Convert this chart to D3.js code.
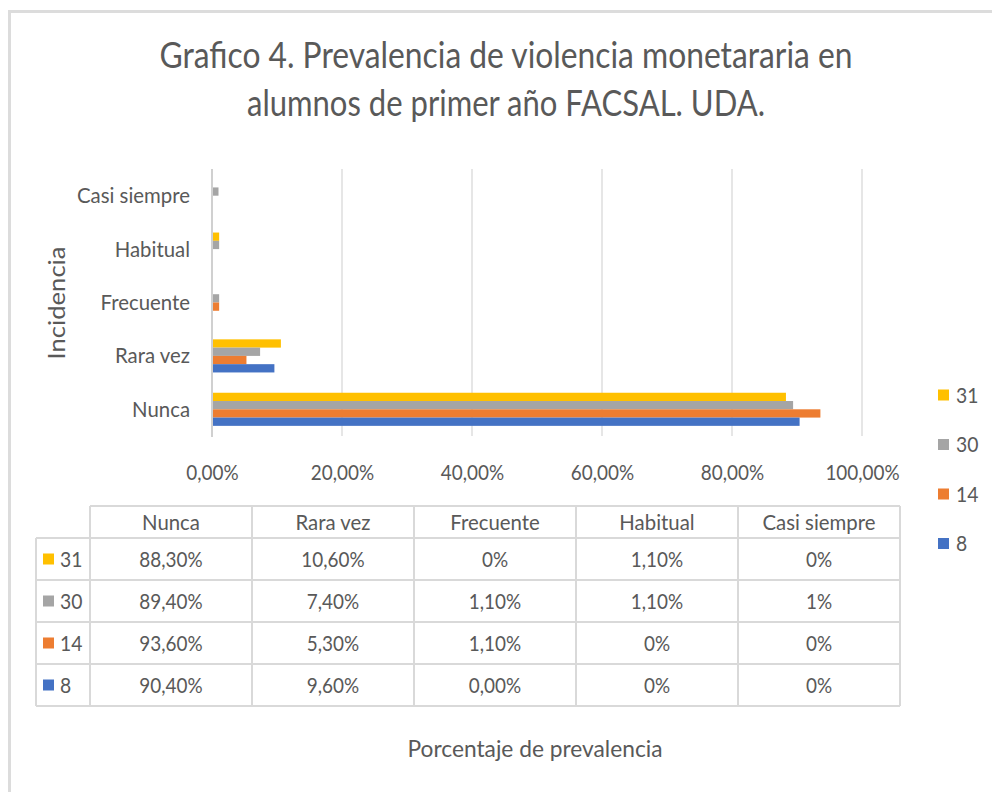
<!DOCTYPE html>
<html>
<head>
<meta charset="utf-8">
<script src="https://cdn.jsdelivr.net/npm/d3@7"></script>
<style>
  html, body { margin: 0; padding: 0; background: #fff; }
  svg { display: block; }
  text { font-family: Lato, "Open Sans", sans-serif; fill: #595959; }
</style>
</head>
<body>
<svg id="chart" width="992" height="792"></svg>
<script>
// ---- data ----
const categories = ["Nunca", "Rara vez", "Frecuente", "Habitual", "Casi siempre"];
const seriesNames = ["31", "30", "14", "8"];
const values31 = [88.3, 10.6, 0, 1.1, 0];
const values30 = [89.4, 7.4, 1.1, 1.1, 1];
const values14 = [93.6, 5.3, 1.1, 0, 0];
const values8  = [90.4, 9.6, 0, 0, 0];
const labels31 = ["88,30%", "10,60%", "0%", "1,10%", "0%"];
const labels30 = ["89,40%", "7,40%", "1,10%", "1,10%", "1%"];
const labels14 = ["93,60%", "5,30%", "1,10%", "0%", "0%"];
const labels8  = ["90,40%", "9,60%", "0,00%", "0%", "0%"];
const xTicks = [0, 20, 40, 60, 80, 100];
const seriesColors = ["#FFC000", "#A5A5A5", "#ED7D31", "#4472C4"];
const titleLines = ["Grafico 4. Prevalencia de violencia monetararia en", "alumnos de primer año FACSAL. UDA."];
const yTitle = "Incidencia";
const xTitle = "Porcentaje de prevalencia";

const seriesValues = [values31, values30, values14, values8];
const seriesLabels = [labels31, labels30, labels14, labels8];

const svg = d3.select("#chart");
const grey = "#d9d9d9";

function squeeze(sel, f) {
  sel.each(function () {
    const w = this.getComputedTextLength();
    d3.select(this).attr("textLength", w * f).attr("lengthAdjust", "spacingAndGlyphs");
  });
}

// outer frame
svg.append("path")
  .attr("d", "M9.5,800 V11.5 H1000")
  .attr("fill", "none").attr("stroke", "#dcdcdc").attr("stroke-width", 3);

// title
svg.selectAll("text.title").data(titleLines).enter().append("text")
  .attr("class", "title")
  .attr("x", 506).attr("y", (d, i) => 68 + i * 48)
  .attr("text-anchor", "middle")
  .style("font-size", "36px")
  .attr("textLength", (d, i) => i === 0 ? 693 : 518)
  .attr("lengthAdjust", "spacingAndGlyphs")
  .text(d => d);

// scales
const plotTop = 169, plotBottom = 436;
const x = d3.scaleLinear().domain([0, 100]).range([212, 862]);
const y = d3.scaleBand().domain(categories.slice().reverse())
  .range([plotTop, plotBottom]).paddingInner(0.38).paddingOuter(0.19);
const ySub = d3.scaleBand().domain(seriesNames).range([0, y.bandwidth()]);

// gridlines
svg.append("g").selectAll("line").data(xTicks.slice(1)).enter().append("line")
  .attr("x1", d => x(d)).attr("x2", d => x(d))
  .attr("y1", plotTop).attr("y2", plotBottom)
  .attr("stroke", grey).attr("stroke-width", 1.3);

// bars
const barsG = svg.append("g");
seriesNames.forEach((s, si) => {
  barsG.selectAll("rect.s" + si).data(categories).enter().append("rect")
    .attr("x", x(0) + 1)
    .attr("y", (c) => y(c) + ySub(s))
    .attr("width", (c, ci) => seriesValues[si][ci] > 0 ? Math.max(0, x(seriesValues[si][ci]) - x(0) - 1) : 0)
    .attr("height", ySub.bandwidth())
    .attr("fill", seriesColors[si]);
});

// vertical axis line
svg.append("line")
  .attr("x1", x(0)).attr("x2", x(0))
  .attr("y1", plotTop).attr("y2", plotBottom + 1)
  .attr("stroke", "#d0d0d0").attr("stroke-width", 2);

// category labels
const yAxis = svg.append("g").attr("transform", `translate(${x(0)},0)`)
  .call(d3.axisLeft(y).tickSize(0).tickPadding(22));
yAxis.select(".domain").remove();
yAxis.selectAll("text")
  .attr("fill", "#595959")
  .style("font-family", "Lato, sans-serif")
  .style("font-size", "21px")
  .attr("dy", "0.36em");
squeeze(yAxis.selectAll("text"), 0.97);

// x tick labels
const locale = d3.formatLocale({ decimal: ",", thousands: ".", grouping: [3], currency: ["", "€"] });
const fmt = locale.format(".2f");
const xAxis = svg.append("g").attr("transform", `translate(0,${plotBottom})`)
  .call(d3.axisBottom(x).tickValues(xTicks).tickSize(0).tickFormat(d => fmt(d) + "%"));
xAxis.select(".domain").remove();
xAxis.selectAll("text")
  .attr("fill", "#595959")
  .attr("y", 44).attr("dy", 0)
  .style("font-family", "Lato, sans-serif")
  .style("font-size", "21px");
squeeze(xAxis.selectAll("text"), 0.9);

// y title
svg.append("text")
  .attr("transform", "translate(65,303) rotate(-90)")
  .attr("text-anchor", "middle")
  .style("font-size", "23px")
  .attr("textLength", 113).attr("lengthAdjust", "spacingAndGlyphs")
  .text(yTitle);

// legend
const legend = svg.append("g");
seriesNames.forEach((s, i) => {
  const cy = 395 + i * 49.5;
  legend.append("rect").attr("x", 938).attr("y", cy - 5.5).attr("width", 11).attr("height", 11)
    .attr("fill", seriesColors[i]);
  legend.append("text").attr("x", 956).attr("y", cy + 7.5)
    .style("font-size", "21px").text(s);
});
squeeze(legend.selectAll("text"), 0.92);

// data table
const tLeft = 36, tFirst = 90, tRight = 900;
const colW = (tRight - tFirst) / categories.length;
const headTop = 506, headBottom = 538, rowH = 42;
const tBottom = headBottom + rowH * seriesNames.length;
const tg = svg.append("g");
const tLine = (x1, y1, x2, y2) => tg.append("line")
  .attr("x1", x1).attr("y1", y1).attr("x2", x2).attr("y2", y2)
  .attr("stroke", grey).attr("stroke-width", 2);
// horizontal lines
tLine(tFirst, headTop, tRight, headTop);
for (let r = 0; r <= seriesNames.length; r++) {
  tLine(tLeft, headBottom + r * rowH, tRight, headBottom + r * rowH);
}
// vertical lines
tLine(tLeft, headBottom, tLeft, tBottom);
for (let c = 0; c <= categories.length; c++) {
  tLine(tFirst + c * colW, headTop, tFirst + c * colW, tBottom);
}
// header
const headTexts = tg.selectAll("text.head").data(categories).enter().append("text")
  .attr("class", "head")
  .attr("x", (d, i) => tFirst + colW * (i + 0.5))
  .attr("y", (headTop + headBottom) / 2 + 7.5)
  .attr("text-anchor", "middle")
  .style("font-size", "21px")
  .text(d => d);
squeeze(headTexts, 0.97);
// rows
seriesNames.forEach((s, si) => {
  const cy = headBottom + rowH * (si + 0.5);
  tg.append("rect").attr("x", 43).attr("y", cy - 5.5).attr("width", 11).attr("height", 11)
    .attr("fill", seriesColors[si]);
  const k = tg.append("text").attr("x", 60).attr("y", cy + 7.5)
    .style("font-size", "21px").text(s);
  squeeze(k, 0.92);
  const cells = tg.selectAll("text.r" + si).data(seriesLabels[si]).enter().append("text")
    .attr("class", "r" + si)
    .attr("x", (d, i) => tFirst + colW * (i + 0.5))
    .attr("y", cy + 7.5)
    .attr("text-anchor", "middle")
    .style("font-size", "21px")
    .text(d => d);
  squeeze(cells, 0.9);
});

// x title
svg.append("text")
  .attr("x", 535).attr("y", 757)
  .attr("text-anchor", "middle")
  .style("font-size", "24px")
  .attr("textLength", 255).attr("lengthAdjust", "spacingAndGlyphs")
  .text(xTitle);
</script>
</body>
</html>
